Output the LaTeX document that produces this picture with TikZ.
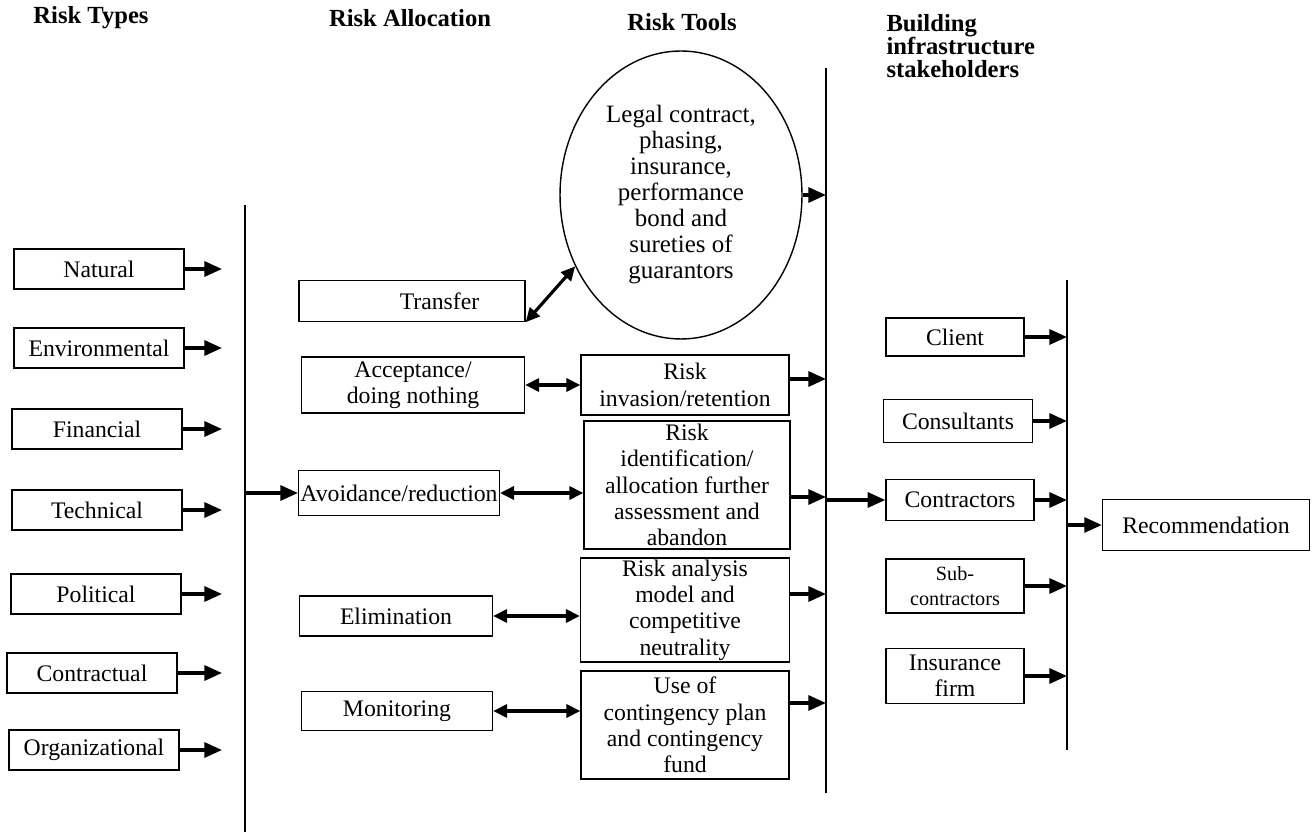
\documentclass[tikz,border=0pt]{standalone}
\usepackage{fontspec}
\setmainfont{Liberation Serif}
\usetikzlibrary{positioning, arrows.meta, shapes.geometric}

\begin{document}
\begin{tikzpicture}[x=0.02cm, y=-0.02cm, >={Triangle[length=8pt, width=7pt]}, line width=0.8pt,
  every node/.style={font=\fontsize{13.5}{15}\selectfont},
  box/.style={draw, rectangle, align=center, inner sep=1pt},
  head/.style={font=\fontsize{14}{13}\selectfont\bfseries, align=left},
  arr/.style={-{Triangle[length=10pt, width=8.5pt]}, line width=1.8pt},
  dbl/.style={{Triangle[length=8pt, width=7.5pt]}-{Triangle[length=8pt, width=7.5pt]}, line width=1.8pt}]
  \useasboundingbox (0,0) rectangle (1316,837);

  % headings
  \node[head] (hTypes) at (91,18)  {Risk Types};
  \node[head] (hAlloc) at (410,18) {Risk Allocation};
  \node[head] (hTools) at (682,22) {Risk Tools};
  \node[head, anchor=north west] (hStake) at (880,8) {Building\\infrastructure\\stakeholders};

  % collecting lines
  \coordinate (l1t) at (245,205);  \coordinate (l1b) at (245,832);
  \coordinate (l2t) at (826,68);   \coordinate (l2b) at (826,793);
  \coordinate (l3t) at (1067,280); \coordinate (l3b) at (1067,750);
  \draw (l1t) -- (l1b);
  \draw (l2t) -- (l2b);
  \draw (l3t) -- (l3b);

  % risk types
  \node[box, minimum width=3.4cm, minimum height=0.8cm] (nat) at (99,269) {Natural};
  \node[box, minimum width=3.4cm, minimum height=0.8cm] (env) at (99,348) {Environmental};
  \node[box, minimum width=3.4cm, minimum height=0.8cm] (fin) at (97,429) {Financial};
  \node[box, minimum width=3.4cm, minimum height=0.8cm] (tec) at (97,510) {Technical};
  \node[box, minimum width=3.4cm, minimum height=0.8cm] (pol) at (96,594) {Political};
  \node[box, minimum width=3.4cm, minimum height=0.8cm] (con) at (92,673) {Contractual};
  \node[box, minimum width=3.4cm, minimum height=0.8cm] (org) at (94,750) {Organizational};

  \foreach \n in {nat, env, fin, tec, pol, con, org}
    \draw[arr, shorten >=0.46cm] (\n.east) -- (\n.east -| l1t);

  % risk allocation
  \node[box, minimum width=4.52cm, minimum height=0.82cm] (trans) at (412,301) {\hspace{1.1cm}Transfer};
  \node[box, minimum width=4.46cm, minimum height=1.12cm] (accept) at (413,385) {Acceptance/\\doing nothing};
  \node[box, minimum width=4.0cm, minimum height=0.9cm] (avoid) at (399,493) {Avoidance/reduction};
  \node[box, minimum width=3.86cm, minimum height=0.8cm] (elim) at (396,616) {Elimination};
  \node[box, minimum width=3.82cm, minimum height=0.78cm] (mon) at (397,711) {Monitoring};

  \draw[arr] (avoid.west -| l1t) -- (avoid.west);

  % risk tools
  \node[draw, ellipse, align=center, inner sep=0pt, minimum width=4.84cm, minimum height=5.76cm,
        font=\fontsize{14.2}{14.8}\selectfont] (legal) at (681,195)
    {Legal contract,\\phasing,\\insurance,\\performance\\bond and\\sureties of\\guarantors};
  \node[box, minimum width=4.16cm, minimum height=1.2cm] (inv) at (685,385) {Risk\\invasion/retention};
  \node[box, minimum width=4.12cm, minimum height=2.56cm] (ident) at (687,485)
    {Risk\\identification/\\allocation further\\assessment and\\abandon};
  \node[box, minimum width=4.18cm, minimum height=2.08cm] (anal) at (685,610)
    {Risk analysis\\model and\\competitive\\neutrality};
  \node[box, minimum width=4.16cm, minimum height=2.16cm] (cont) at (685,725)
    {Use of\\contingency plan\\and contingency\\fund};

  \draw[dbl] (trans.south east) -- (legal.214);
  \draw[dbl] (accept.east) -- (accept.east -| inv.west);
  \draw[dbl] (avoid.east) -- (avoid.east -| ident.west);
  \draw[dbl] (elim.east) -- (elim.east -| anal.west);
  \draw[dbl] (mon.east) -- (mon.east -| cont.west);

  \draw[arr] (legal.east) -- (legal.east -| l2t);
  \draw[arr] ([yshift=0.12cm]inv.east) -- ([yshift=0.12cm]inv.east -| l2t);
  \draw[arr] ([yshift=-0.24cm]ident.east) -- ([yshift=-0.24cm]ident.east -| l2t);
  \draw[arr] ([yshift=0.32cm]anal.east) -- ([yshift=0.32cm]anal.east -| l2t);
  \draw[arr] ([yshift=0.44cm]cont.east) -- ([yshift=0.44cm]cont.east -| l2t);

  % stakeholders
  \node[box, minimum width=2.76cm, minimum height=0.76cm] (client) at (955,337) {Client};
  \node[box, minimum width=2.98cm, minimum height=0.86cm] (consult) at (958,421) {Consultants};
  \node[box, minimum width=2.96cm, minimum height=0.82cm] (contr) at (960,500) {Contractors};
  \node[box, minimum width=2.76cm, minimum height=1.08cm, font=\fontsize{11.5}{14}\selectfont] (sub) at (955,586) {Sub-\\contractors};
  \node[box, minimum width=2.76cm, minimum height=1.1cm] (insur) at (955,676) {Insurance\\firm};

  \draw[arr] (contr.west -| l2t) -- (contr.west);
  \foreach \n in {client, consult, contr, sub, insur}
    \draw[arr] (\n.east) -- (\n.east -| l3t);

  \node[box, minimum width=4.14cm, minimum height=1.02cm] (rec) at (1206,525) {Recommendation};
  \draw[arr] (rec.west -| l3t) -- (rec.west);
\end{tikzpicture}
\end{document}
